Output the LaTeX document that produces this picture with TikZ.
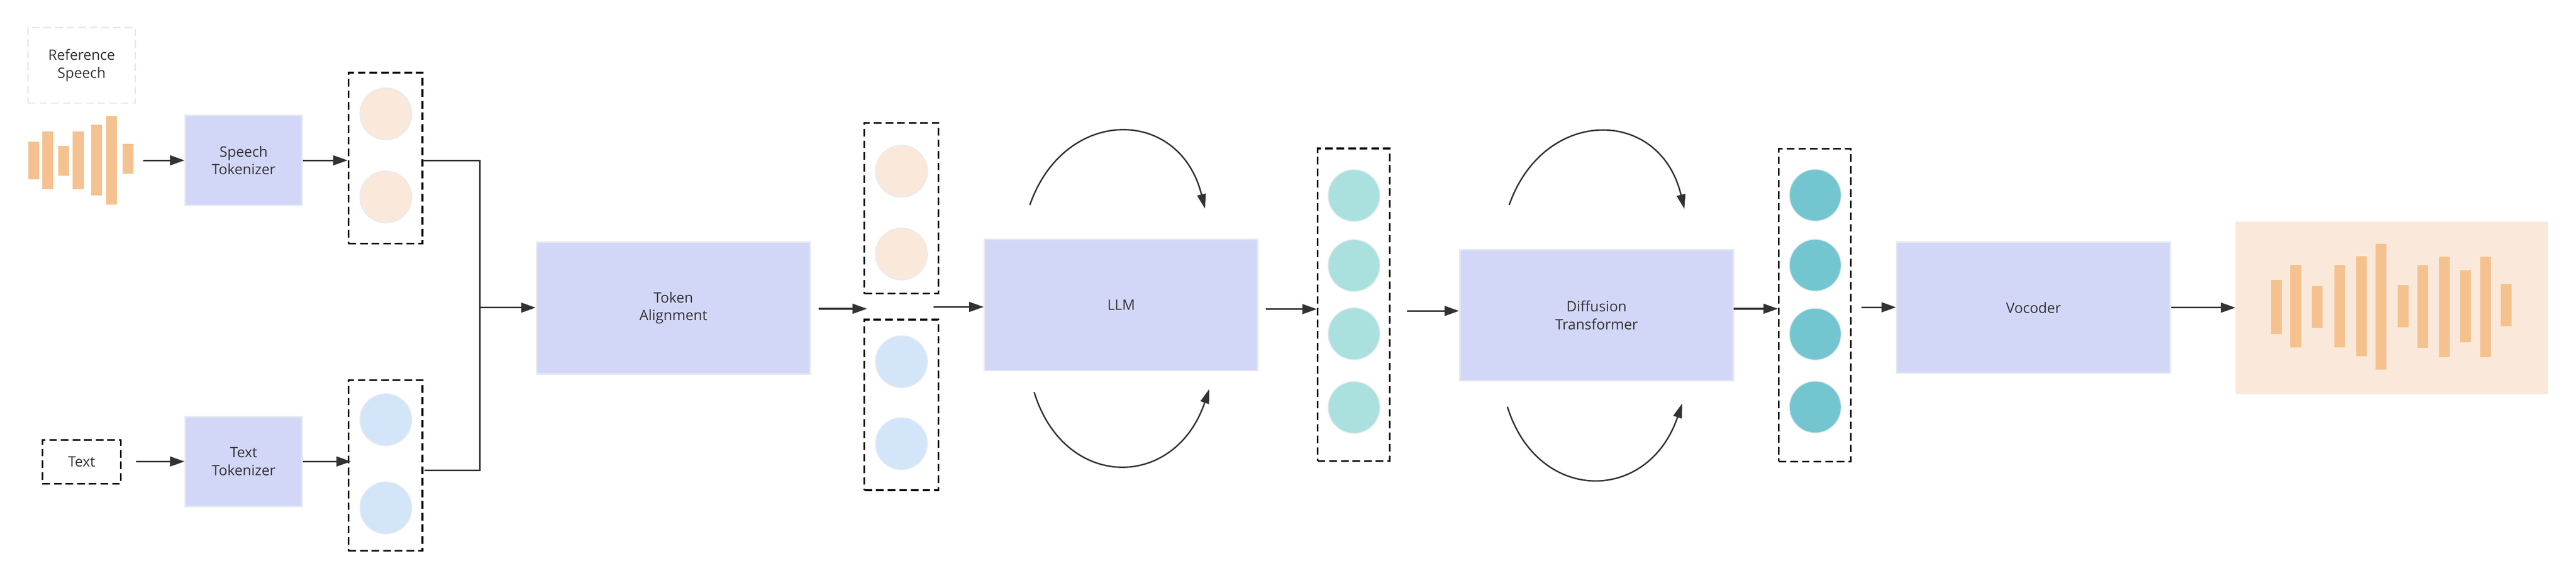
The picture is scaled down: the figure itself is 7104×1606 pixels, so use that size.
\documentclass[tikz,border=0pt]{standalone}
\usepackage{fontspec}
\setmainfont{Open Sans}
\usetikzlibrary{arrows.meta}
\definecolor{blockblue}{HTML}{D3D7F7}
\definecolor{softedge}{HTML}{E6EAEF}
\definecolor{wavebar}{HTML}{F5C28F}
\definecolor{peach}{HTML}{FAE9DA}
\definecolor{sky}{HTML}{D3E5F9}
\definecolor{mint}{HTML}{AAE1DF}
\definecolor{teal}{HTML}{73C6D0}
\definecolor{linegray}{HTML}{323232}
\tikzset{
every node/.style={font=\fontsize{11.2}{13.9}\selectfont,text=linegray,align=center},
block/.style={draw=softedge,fill=blockblue,line width=0.04cm},
group/.style={draw=black,line width=0.045cm,dash pattern=on 0.21cm off 0.11cm},
token/.style={circle,draw=softedge,line width=0.025cm,minimum size=1.43cm,inner sep=0pt},
flow/.style={draw=linegray,line width=0.045cm,-{Triangle[length=0.4cm,width=0.27cm]}},
wire/.style={draw=linegray,line width=0.045cm},
cycle/.style={draw=linegray,line width=0.04cm,-{Triangle[length=0.4cm,width=0.24cm]}}
}
\begin{document}
\begin{tikzpicture}[x=0.01cm,y=-0.01cm]
\useasboundingbox (0,0) rectangle (7104,1606);
\node[draw=softedge,line width=0.04cm,dash pattern=on 0.21cm off 0.11cm,minimum width=2.96cm,minimum height=2.08cm] (refspeech) at (225,180) {\raisebox{-0.05cm}{Reference}\\\raisebox{-0.05cm}{Speech}};
\foreach \xa/\ya/\yb in {78/391/494,117/362/521,161/402/484,201/362/521,252/344/538,292/320/564,338/397/479}
\fill[wavebar] (\xa,\ya) rectangle (\xa+30,\yb);
\node[group,minimum width=2.16cm,minimum height=1.2cm] (text) at (225,1273) {Text};

\node[block,minimum width=3.22cm,minimum height=2.48cm] (speechtok) at (672,442) {Speech\\Tokenizer};
\node[block,minimum width=3.22cm,minimum height=2.47cm] (texttok) at (672,1272) {Text\\Tokenizer};

\node[group,minimum width=2.04cm,minimum height=4.71cm] (speechgroup) at (1063,436) {};
\node[token,fill=peach] (speecha) at (1064,314) {};
\node[token,fill=peach] (speechb) at (1064,543) {};
\node[group,minimum width=2.04cm,minimum height=4.71cm] (textgroup) at (1063,1283) {};
\node[token,fill=sky] (texta) at (1064,1157) {};
\node[token,fill=sky] (textb) at (1064,1400) {};

\node[block,minimum width=7.55cm,minimum height=3.63cm] (align) at (1857,849) {Token\\Alignment};

\node[group,minimum width=2.04cm,minimum height=4.71cm] (midspeech) at (2486,574) {};
\node[token,fill=peach] (midspeecha) at (2486,472) {};
\node[token,fill=peach] (midspeechb) at (2486,700) {};
\node[group,minimum width=2.04cm,minimum height=4.7cm] (midtext) at (2486,1116) {};
\node[token,fill=sky] (midtexta) at (2486,997) {};
\node[token,fill=sky] (midtextb) at (2486,1223) {};

\node[block,minimum width=7.54cm,minimum height=3.61cm] (llm) at (3092,841) {\raisebox{-0.05cm}{LLM}};

\node[group,minimum width=1.98cm,minimum height=8.61cm] (latent) at (3733,840) {};
\node[token,fill=mint] (latenta) at (3734,539) {};
\node[token,fill=mint] (latentb) at (3734,732) {};
\node[token,fill=mint] (latentc) at (3734,920) {};
\node[token,fill=mint] (latentd) at (3734,1123) {};

\node[block,minimum width=7.54cm,minimum height=3.6cm] (diffusion) at (4403,869) {Diffusion\\Transformer};

\node[group,minimum width=1.99cm,minimum height=8.61cm] (mel) at (5005,841) {};
\node[token,fill=teal] (mela) at (5006,538) {};
\node[token,fill=teal] (melb) at (5006,731) {};
\node[token,fill=teal] (melc) at (5006,921) {};
\node[token,fill=teal] (meld) at (5006,1122) {};

\node[block,minimum width=7.54cm,minimum height=3.61cm] (vocoder) at (5608,848) {Vocoder};

\node[fill=peach,inner sep=0pt,outer sep=0pt,minimum width=8.62cm,minimum height=4.76cm] (output) at (6596,849) {};
\foreach \xa/\ya/\yb in {6263/772/920,6316/730/958,6375/788/904,6437/730/958,6497/706/982,6551/672/1019,6612/786/902,6666/730/959,6726/707/985,6784/744/944,6839/708/985,6897/783/900}
\fill[wavebar] (\xa,\ya) rectangle (\xa+30,\yb);

\coordinate (wavein) at (395,442);
\coordinate (textout) at (375,1272);
\coordinate (textin) at (968,1272);
\coordinate (speechout) at (1167,442);
\coordinate (busa) at (1324,442);
\coordinate (busb) at (1324,1297);
\coordinate (textend) at (1171,1297);
\coordinate (busmid) at (1324,848);
\coordinate (alignout) at (2257,851);
\coordinate (gapend) at (2391,851);
\coordinate (gapstart) at (2575,846);
\coordinate (llmout) at (3491,852);
\coordinate (latentout) at (3880,857);
\coordinate (diffout) at (4781,851);
\coordinate (melout) at (5134,847);
\coordinate (vocout) at (5987,848);

\draw[flow] (wavein) -- (speechtok.west);
\draw[flow] (speechtok.east) -- (speechtok.east -| speechgroup.west);
\draw[flow] (textout) -- (textout -| texttok.west);
\draw[flow] (texttok.east) -- (textin);
\draw[wire] (speechout) -- (busa) -- (busb) -- (textend);
\draw[flow] (busmid) -- (busmid -| align.west);
\draw[flow] (alignout) -- (gapend);
\draw[flow] (gapstart) -- (gapstart -| llm.west);
\draw[flow] (llmout) -- (llmout -| latent.west);
\draw[flow] (latentout) -- (latentout -| diffusion.west);
\draw[flow] (diffout) -- (diffout -| mel.west);
\draw[flow] (melout) -- (melout -| vocoder.west);
\draw[flow] (vocout) -- (vocout -| output.west);

\coordinate (llmtopa) at (2840,565);
\coordinate (llmtopb) at (3323,575);
\coordinate (llmlowa) at (2852,1081);
\coordinate (llmlowb) at (3335,1072);
\coordinate (difftopa) at (4162,565);
\coordinate (difftopb) at (4645,576);
\coordinate (difflowa) at (4157,1121);
\coordinate (difflowb) at (4639,1112);
\draw[cycle] (llmtopa) .. controls (2935,293) and (3253,293) .. (llmtopb);
\draw[cycle] (llmlowa) .. controls (2935,1352) and (3240,1352) .. (llmlowb);
\draw[cycle] (difftopa) .. controls (4257,294) and (4578,294) .. (difftopb);
\draw[cycle] (difflowa) .. controls (4240,1389) and (4545,1389) .. (difflowb);
\end{tikzpicture}
\end{document}
